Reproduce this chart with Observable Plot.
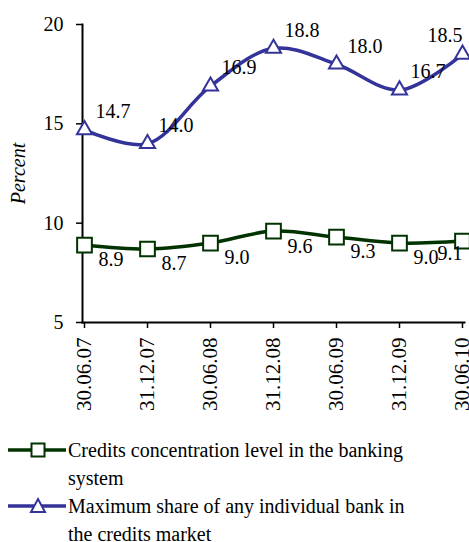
<!DOCTYPE html>
<html><head><meta charset="utf-8">
<script src="https://cdn.jsdelivr.net/npm/d3@7"></script>
<script src="https://cdn.jsdelivr.net/npm/@observablehq/plot@0.6"></script>
<style>
body{margin:0;font-family:'Times New Roman',Times,serif;}
#legend{padding-top:6px;font-size:20px;line-height:28px;font-family:'Times New Roman',Times,serif;}
.entry{display:flex;align-items:flex-start;}
.entry svg{flex:none;margin-left:6px;}
.entry div{padding-left:2px;}
</style></head><body>
<div id="chart"></div>
<div id="legend"></div>
<script>
const dates = ["30.06.07","31.12.07","30.06.08","31.12.08","30.06.09","31.12.09","30.06.10"];
const concentration = [8.9, 8.7, 9.0, 9.6, 9.3, 9.0, 9.1];
const maxShare = [14.7, 14.0, 16.9, 18.8, 18.0, 16.7, 18.5];
const seriesNames = ["Credits concentration level in the banking system", "Maximum share of any individual bank in the credits market"];
const yTicks = [5, 10, 15, 20];
const colors = ["#003300", "#333399"];
const FONT = "'Times New Roman', Times, serif";

const green = dates.map((d, i) => ({date: d, v: concentration[i], i}));
const blue = dates.map((d, i) => ({date: d, v: maxShare[i], i}));
const last = dates.length - 1;
const fmt = d => d.v.toFixed(1);

const chart = Plot.plot({
  width: 469, height: 430,
  marginTop: 24, marginBottom: 108, marginLeft: 82, marginRight: 5,
  style: {fontFamily: FONT, overflow: "visible"},
  x: {type: "point", domain: dates, padding: 0},
  y: {domain: [5, 20]},
  marks: [
    Plot.axisY({ticks: yTicks, tickSize: 6, tickPadding: 13, fontSize: 20, strokeWidth: 1.5, label: "Percent", labelAnchor: "center", labelOffset: 72, labelArrow: "none"}),
    Plot.axisX({tickSize: 6, tickPadding: 9, tickRotate: -90, fontSize: 21, strokeWidth: 1.5, label: null}),
    Plot.frame({anchor: "left", strokeWidth: 2}),
    Plot.frame({anchor: "bottom", strokeWidth: 2}),
    Plot.line(green, {x: "date", y: "v", stroke: colors[0], strokeWidth: 3.5, curve: "catmull-rom"}),
    Plot.line(blue, {x: "date", y: "v", stroke: colors[1], strokeWidth: 3.5, curve: "catmull-rom"}),
    Plot.dot(green, {x: "date", y: "v", symbol: "square", r: 8.3, fill: "#fff", stroke: colors[0], strokeWidth: 2}),
    Plot.dot(blue, {x: "date", y: "v", symbol: "triangle", r: 5.6, fill: "#fff", stroke: colors[1], strokeWidth: 2}),
    Plot.text(green.filter(d => d.i < last), {x: "date", y: "v", text: fmt, dx: 14, dy: 15, textAnchor: "start", fontSize: 20}),
    Plot.text(green.filter(d => d.i === last), {x: "date", y: "v", text: fmt, dx: 0, dy: 13, textAnchor: "end", fontSize: 20}),
    Plot.text(blue.filter(d => d.i < last), {x: "date", y: "v", text: fmt, dx: 11, dy: -18, textAnchor: "start", fontSize: 20}),
    Plot.text(blue.filter(d => d.i === last), {x: "date", y: "v", text: fmt, dx: 0, dy: -19, textAnchor: "end", fontSize: 20})
  ]
});
document.getElementById("chart").append(chart);
const lbl = chart.querySelector('g[aria-label="y-axis label"]');
if (lbl) lbl.setAttribute("font-style", "italic");

const legend = document.getElementById("legend");
const syms = ["square", "triangle"];
const textWidths = [388, 350];
seriesNames.forEach((name, k) => {
  const e = document.createElement("div");
  e.className = "entry";
  const shape = syms[k] === "square"
    ? `<rect x="25.5" y="7.5" width="13" height="13" fill="#fff" stroke="${colors[k]}" stroke-width="2"/>`
    : `<path d="M32,7 L39,20 L25,20 Z" fill="#fff" stroke="${colors[k]}" stroke-width="2"/>`;
  e.innerHTML = `<svg width="60" height="28"><line x1="2" x2="60" y1="14" y2="14" stroke="${colors[k]}" stroke-width="3.5"/>${shape}</svg><div style="width:${textWidths[k]}px">${name}</div>`;
  legend.append(e);
});
</script>
</body></html>
